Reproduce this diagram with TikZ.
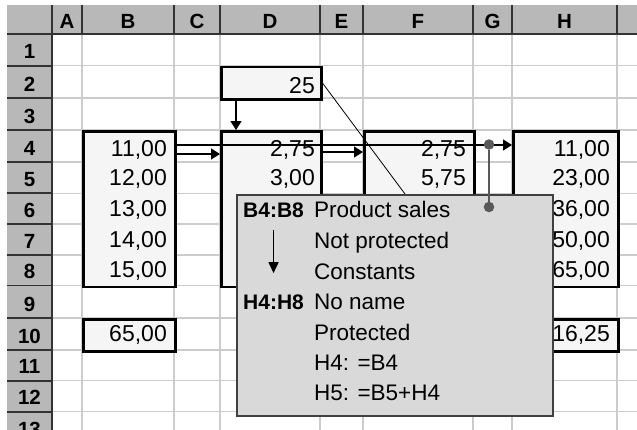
\documentclass[tikz,border=0pt]{standalone}
\usepackage{fontspec}
\setmainfont{Liberation Sans}
\usetikzlibrary{arrows.meta}

\definecolor{hdrgray}{gray}{0.72}
\definecolor{gridgray}{gray}{0.80}
\definecolor{tipgray}{gray}{0.85}
\definecolor{dotgray}{gray}{0.35}

\begin{document}
\begin{tikzpicture}[x=1pt,y=-1pt,
    hdrlabel/.style={anchor=base,inner sep=0pt,font=\fontsize{20.5}{20.5}\selectfont\bfseries},
    hdrline/.style={draw=black!80,line width=1.8pt},
    gridline/.style={draw=gridgray,line width=1.3pt},
    rangebox/.style={draw=black,line width=2.6pt,fill=black!4,inner sep=0pt,anchor=north west},
    val/.style={anchor=base east,inner sep=0pt,font=\fontsize{23}{23}\selectfont},
    tracer/.style={line width=1.4pt,-{Triangle[length=9pt,width=11pt]}},
    dot/.style={circle,fill=dotgray,inner sep=0pt,minimum size=10.5pt},
    tipbox/.style={draw=black!75,line width=1.8pt,fill=tipgray,inner sep=0pt,anchor=north west},
    tiplabel/.style={anchor=base west,inner sep=0pt,font=\fontsize{21}{21}\selectfont\bfseries},
    tiptext/.style={anchor=base west,inner sep=0pt,font=\fontsize{22.5}{22.5}\selectfont}]

    \useasboundingbox (0,0) rectangle (637,429);
    \clip (0,0) rectangle (637,429);

    % Header backgrounds
    \fill[hdrgray] (7,5) rectangle (637,34.3);
    \fill[hdrgray] (7,34.3) rectangle (52,440);

    % Grid of the sheet
    \foreach \x in {82,174,220,320,363,473,512,617}
        \draw[gridline] (\x,34.3) -- (\x,440);
    \foreach \y in {65.7,98,130,162,193.3,224,255,285.5,318,350,380.7,411.7}
        \draw[gridline] (52,\y) -- (637,\y);

    % Header separators
    \foreach \x in {52,82,174,220,320,363,473,512,617}
        \draw[hdrline] (\x,5) -- (\x,34.3);
    \foreach \y in {65.7,98,130,162,193.3,224,255,285.5,318,350,380.7,411.7}
        \draw[hdrline] (7,\y) -- (52,\y);
    \draw[hdrline] (7,34.3) -- (637,34.3);
    \draw[hdrline] (52,5) -- (52,440);

    % Column and row labels
    \foreach \x/\c in {67/A,128/B,197/C,270/D,341.5/E,418/F,492.5/G,564.5/H}
        \node[hdrlabel] (col\c) at (\x,28) {\c};
    \foreach \b/\n in {65.7/1,98/2,130/3,162/4,193.3/5,224/6,255/7,285.5/8,318/9,350/10,380.7/11,411.7/12,443/13}
        \node[hdrlabel] (row\n) at (29.5,{\b-7}) {\n};

    % Ranges with thick borders
    \node[rangebox,minimum width=100pt,minimum height=32.3pt] (d2box) at (220,65.7) {};
    \node[rangebox,minimum width=92pt,minimum height=155.5pt] (bbox) at (82,130) {};
    \node[rangebox,minimum width=100pt,minimum height=155.5pt] (dbox) at (220,130) {};
    \node[rangebox,minimum width=110pt,minimum height=155.5pt] (fbox) at (363,130) {};
    \node[rangebox,minimum width=105pt,minimum height=155.5pt] (hbox) at (512,130) {};
    \node[rangebox,minimum width=92pt,minimum height=32pt] (btotal) at (82,318) {};
    \node[rangebox,minimum width=105pt,minimum height=32pt] (htotal) at (512,318) {};

    % Cell values
    \node[val] (d2) at (315,93) {25};
    \foreach \y/\v [count=\i from 4] in {156.5/11,185/12,216/13,247.3/14,277.7/15}
        \node[val] (b\i) at (167,\y) {\v,00};
    \node[val] (d4) at (315,156.5) {2,75};
    \node[val] (d5) at (315,185) {3,00};
    \node[val] (f4) at (466,156.5) {2,75};
    \node[val] (f5) at (466,185) {5,75};
    \foreach \y/\v [count=\i from 4] in {156.5/11,185/23,216/36,247.3/50,277.7/65}
        \node[val] (h\i) at (610,\y) {\v,00};
    \node[val] (b10) at (167,341.7) {65,00};
    \node[val] (h10) at (610,341.7) {16,25};

    % Tracer arrows
    \draw[tracer] ([xshift=16pt]d2box.south west) -- ([xshift=16pt]dbox.north west);
    \draw[tracer] ([yshift=-24pt]bbox.north east) -- ([yshift=-24pt]dbox.north west);
    \draw[tracer] ([yshift=-22pt]dbox.north east) -- ([yshift=-22pt]fbox.north west);
    \draw[tracer] ([yshift=-15pt]bbox.north east) -- ([yshift=-15pt]hbox.north west);

    % Cell tip
    \node[tipbox,minimum width=316pt,minimum height=221pt] (tipbox) at (236,194) {};
    \draw[line width=0.8pt] (d2box.east) -- ([xshift=169pt]tipbox.north west);

    \node[tiplabel] (lab1) at (243,217) {B4:B8};
    \node[tiptext] (txt1) at (314,217) {Product sales};
    \node[tiptext] (txt2) at (314,248) {Not protected};
    \node[tiptext] (txt3) at (314,279) {Constants};
    \node[tiplabel] (lab2) at (243,309) {H4:H8};
    \node[tiptext] (txt4) at (314,309) {No name};
    \node[tiptext] (txt5) at (314,340) {Protected};
    \node[tiptext] (txt6) at (314,370) {H4: =B4};
    \node[tiptext] (txt7) at (314,400) {H5: =B5+H4};
    \draw[line width=1.4pt,-{Triangle[length=11pt,width=10pt]}]
        ([yshift=-13pt]lab1.south) -- ([yshift=21pt]lab2.north);

    % Dependent marks in column G
    \node[dot] (gdot1) at (489,144.5) {};
    \node[dot] (gdot2) at (489,207) {};
    \draw[dotgray,line width=2.8pt] (gdot1) -- (gdot2);

\end{tikzpicture}
\end{document}
